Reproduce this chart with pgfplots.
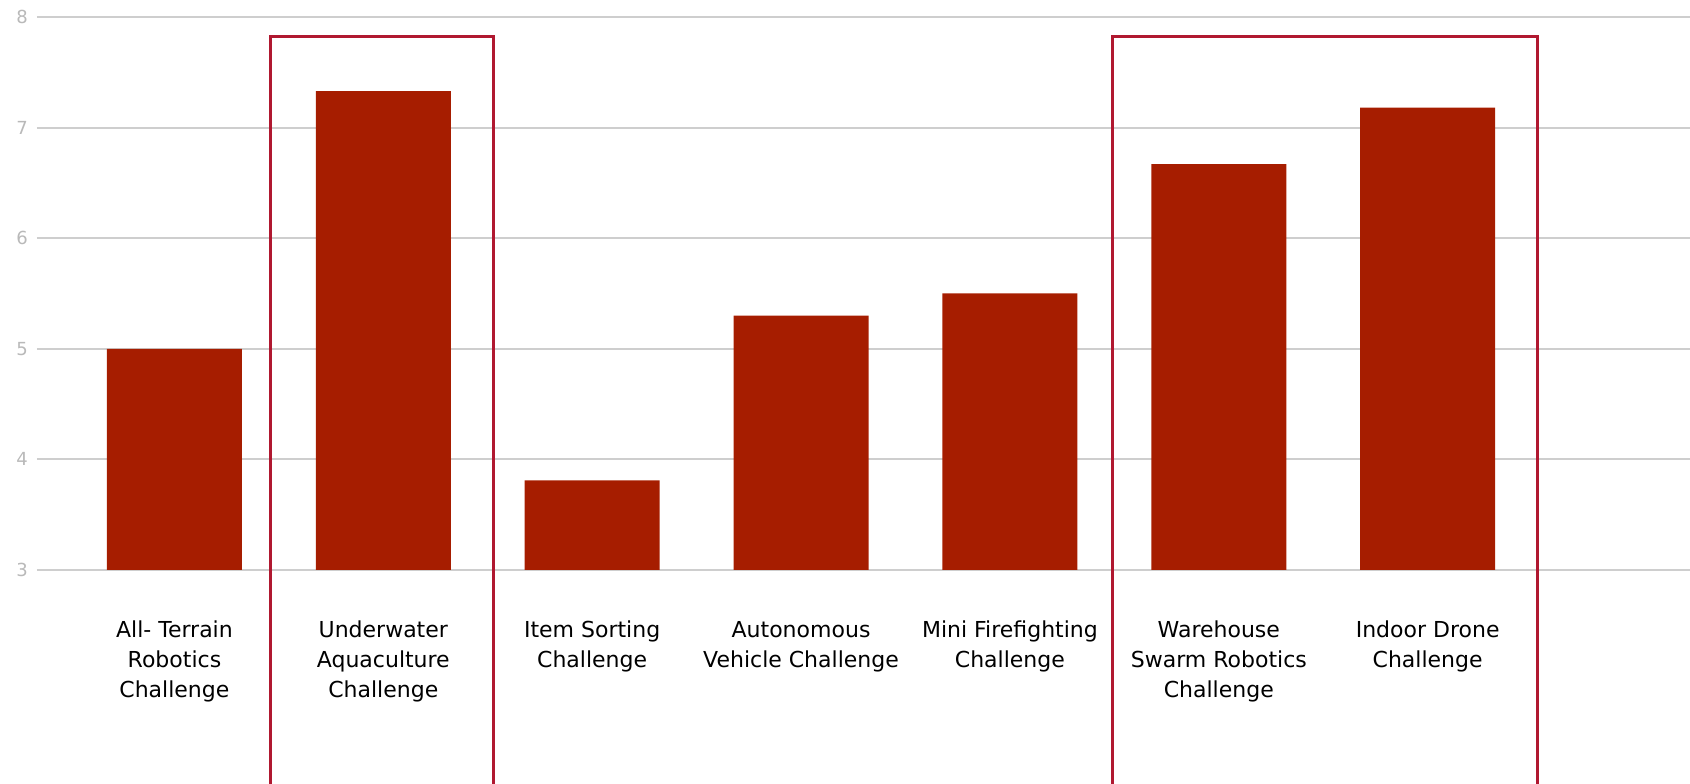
\documentclass[border=0pt]{standalone}
\usepackage{fontspec}
\setmainfont{DejaVu Sans}
\usepackage{pgfplots}
\pgfplotsset{compat=1.18}

\definecolor{barred}{RGB}{166,29,0}
\definecolor{boxred}{RGB}{176,24,48}
\definecolor{gridgray}{RGB}{206,206,206}
\definecolor{ticktext}{RGB}{185,185,185}

\begin{document}
\begin{tikzpicture}
  \begin{axis}[
      name=ax,
      scale only axis,
      width=826.5pt,
      height=276.5pt,
      ybar,
      bar width=0.646,
      xmin=-0.658, xmax=7.256,
      ymin=3, ymax=8,
      ytick={3,4,5,6,7,8},
      xtick=data,
      xticklabels={{All- Terrain\\Robotics\\Challenge},
                   {Underwater\\Aquaculture\\Challenge},
                   {Item Sorting\\Challenge},
                   {Autonomous\\Vehicle Challenge},
                   {Mini Firefighting\\Challenge},
                   {Warehouse\\Swarm Robotics\\Challenge},
                   {Indoor Drone\\Challenge}},
      x tick label style={align=center, font=\fontsize{11}{15}\selectfont,
                          anchor=north, yshift=-22pt},
      y tick label style={font=\fontsize{9}{10}\selectfont, text=ticktext,
                          xshift=-1pt},
      /pgf/number format/assume math mode=true,
      major tick length=0pt,
      ymajorgrids,
      grid style={gridgray, line width=1pt},
      axis line style={draw=none},
      clip mode=individual,
    ]
    \addplot[fill=barred, draw=none] coordinates {
      (0,5.00) (1,7.33) (2,3.81) (3,5.30) (4,5.50) (5,6.67) (6,7.18)
    };
    \draw[boxred, line width=1.5pt] (axis cs:0.462,1.06) |- (axis cs:1.529,7.82) -- (axis cs:1.529,1.06);
    \draw[boxred, line width=1.5pt] (axis cs:4.490,1.06) |- (axis cs:6.524,7.82) -- (axis cs:6.524,1.06);
  \end{axis}
  \pgfresetboundingbox
  \useasboundingbox ([xshift=-18.5pt,yshift=-107pt]ax.south west) rectangle ([yshift=8.5pt]ax.north east);
\end{tikzpicture}
\end{document}
